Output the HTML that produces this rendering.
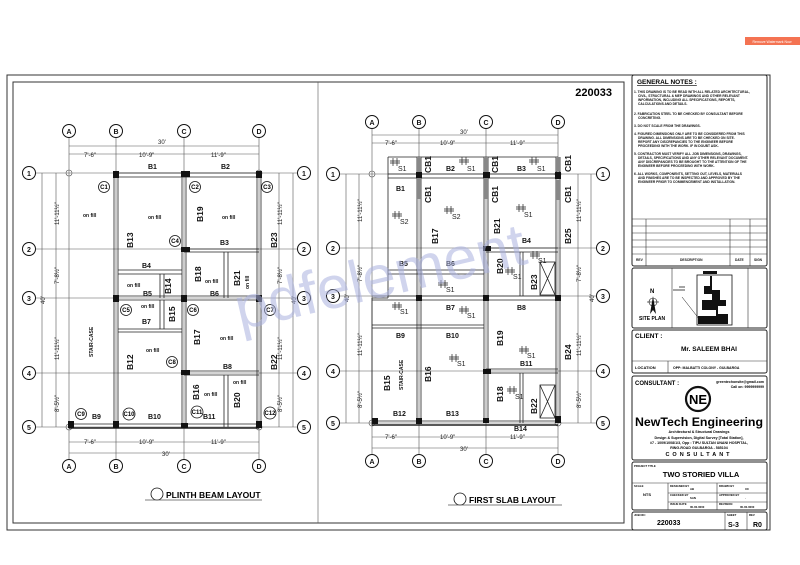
<!DOCTYPE html>
<html><head><meta charset="utf-8"><style>
html,body{margin:0;padding:0;background:#fff}
svg{display:block}
text{font-family:"Liberation Sans",sans-serif}
.b{font-weight:bold;font-size:7px;fill:#111}
.bv{font-weight:bold;font-size:8.5px;fill:#111}
.of{font-weight:bold;font-size:5px;fill:#111}
.d{font-size:6px;fill:#222}
.bub{fill:#fff;stroke:#111;stroke-width:1}
.bt{font-weight:bold;font-size:7px;text-anchor:middle;fill:#111}
.g{stroke:#555;stroke-width:0.6;fill:none}
.w{stroke:#222;stroke-width:0.8;fill:none}
.s{font-size:7px;fill:#222}
.tn{font-size:3.3px;font-weight:bold;fill:#111}
</style></head><body>
<svg width="800" height="565" viewBox="0 0 800 565" xmlns="http://www.w3.org/2000/svg">
<rect x="745" y="37" width="55" height="8" fill="#f47352"/>
<text x="772" y="43" font-size="3.5" fill="#fff" text-anchor="middle">Remove Watermark Now</text>
<rect x="7" y="75" width="763" height="455" fill="none" stroke="#333" stroke-width="1"/>
<rect x="13" y="82" width="611" height="441" fill="none" stroke="#333" stroke-width="1"/>
<line x1="318" y1="82" x2="318" y2="523" stroke="#555" stroke-width="0.6"/>
<text x="612" y="96" font-size="11" font-weight="bold" text-anchor="end">220033</text>

<!-- ===== LEFT PLAN ===== -->
<g class="g">
<line x1="69" y1="138" x2="69" y2="459"/><line x1="116" y1="138" x2="116" y2="459"/><line x1="184" y1="138" x2="184" y2="459"/><line x1="259" y1="138" x2="259" y2="459"/>
<line x1="36" y1="173" x2="297" y2="173"/><line x1="36" y1="249" x2="297" y2="249"/><line x1="36" y1="298" x2="297" y2="298"/><line x1="36" y1="373" x2="297" y2="373"/><line x1="36" y1="427" x2="297" y2="427"/>
<line x1="69" y1="146" x2="259" y2="146"/><line x1="69" y1="154" x2="259" y2="154"/>
<line x1="69" y1="442" x2="259" y2="442"/><line x1="69" y1="453" x2="259" y2="453"/>
<line x1="42" y1="173" x2="42" y2="427"/><line x1="56" y1="173" x2="56" y2="427"/>
<line x1="279" y1="173" x2="279" y2="427"/><line x1="293" y1="173" x2="293" y2="427"/>
</g>
<circle cx="69" cy="173" r="3" fill="none" stroke="#555" stroke-width="0.6"/>
<circle cx="259" cy="173" r="3" fill="none" stroke="#555" stroke-width="0.6"/>
<circle cx="69" cy="427" r="3" fill="none" stroke="#555" stroke-width="0.6"/>
<circle cx="259" cy="427" r="3" fill="none" stroke="#555" stroke-width="0.6"/>
<text class="d" x="158" y="144">30'</text>
<text class="d" x="84" y="157">7'-6"</text><text class="d" x="139" y="157">10'-9"</text><text class="d" x="211" y="157">11'-9"</text>
<text class="d" x="84" y="444">7'-6"</text><text class="d" x="139" y="444">10'-9"</text><text class="d" x="211" y="444">11'-9"</text>
<text class="d" x="162" y="456">30'</text>
<g class="d">
<text transform="translate(59,225) rotate(-90)">11'-11½"</text>
<text transform="translate(59,284) rotate(-90)">7'-8½"</text>
<text transform="translate(59,360) rotate(-90)">11'-11½"</text>
<text transform="translate(59,412) rotate(-90)">8'-5½"</text>
<text transform="translate(45,304) rotate(-90)">40'</text>
<text transform="translate(282,225) rotate(-90)">11'-11½"</text>
<text transform="translate(282,284) rotate(-90)">7'-8½"</text>
<text transform="translate(282,360) rotate(-90)">11'-11½"</text>
<text transform="translate(282,412) rotate(-90)">8'-5½"</text>
<text transform="translate(296,304) rotate(-90)">40'</text>
</g>
<g class="w">
<line x1="116" y1="173" x2="259" y2="173"/><line x1="116" y1="177" x2="259" y2="177"/>
<line x1="114" y1="173" x2="114" y2="427"/><line x1="118" y1="173" x2="118" y2="427"/>
<line x1="182" y1="173" x2="182" y2="427"/><line x1="186" y1="173" x2="186" y2="427"/>
<line x1="257" y1="173" x2="257" y2="427"/><line x1="261" y1="173" x2="261" y2="427"/>
<line x1="184" y1="249" x2="259" y2="249"/><line x1="184" y1="252" x2="259" y2="252"/>
<line x1="118" y1="270" x2="182" y2="270"/><line x1="118" y1="274" x2="182" y2="274"/>
<line x1="160" y1="274" x2="160" y2="298"/><line x1="164" y1="274" x2="164" y2="298"/>
<line x1="224" y1="252" x2="224" y2="298"/><line x1="228" y1="252" x2="228" y2="298"/>
<line x1="116" y1="296" x2="259" y2="296"/><line x1="116" y1="300" x2="259" y2="300"/>
<line x1="118" y1="329" x2="182" y2="329"/><line x1="118" y1="332" x2="182" y2="332"/>
<line x1="160" y1="300" x2="160" y2="329"/><line x1="164" y1="300" x2="164" y2="329"/>
<line x1="184" y1="371" x2="259" y2="371"/><line x1="184" y1="375" x2="259" y2="375"/>
<line x1="224" y1="375" x2="224" y2="427"/><line x1="228" y1="375" x2="228" y2="427"/>
<line x1="69" y1="424" x2="259" y2="424"/><line x1="69" y1="428" x2="259" y2="428" stroke-width="1.4"/>
</g>
<g fill="#111">
<rect x="113" y="171" width="6" height="7"/><rect x="181" y="171" width="9" height="6"/><rect x="256" y="171" width="6" height="7"/>
<rect x="181" y="247" width="9" height="5"/><rect x="113" y="295" width="6" height="7"/><rect x="181" y="295" width="6" height="7"/><rect x="256" y="295" width="6" height="7"/>
<rect x="181" y="370" width="9" height="5"/><rect x="68" y="421" width="6" height="7"/><rect x="113" y="421" width="6" height="7"/><rect x="181" y="423" width="7" height="5"/><rect x="256" y="421" width="6" height="7"/>
</g>
<g>
<circle class="bub" cx="69" cy="131" r="6.5"/><circle class="bub" cx="116" cy="131" r="6.5"/><circle class="bub" cx="184" cy="131" r="6.5"/><circle class="bub" cx="259" cy="131" r="6.5"/>
<circle class="bub" cx="69" cy="466" r="6.5"/><circle class="bub" cx="116" cy="466" r="6.5"/><circle class="bub" cx="184" cy="466" r="6.5"/><circle class="bub" cx="259" cy="466" r="6.5"/>
<circle class="bub" cx="29" cy="173" r="6.5"/><circle class="bub" cx="29" cy="249" r="6.5"/><circle class="bub" cx="29" cy="298" r="6.5"/><circle class="bub" cx="29" cy="373" r="6.5"/><circle class="bub" cx="29" cy="427" r="6.5"/>
<circle class="bub" cx="304" cy="173" r="6.5"/><circle class="bub" cx="304" cy="249" r="6.5"/><circle class="bub" cx="304" cy="298" r="6.5"/><circle class="bub" cx="304" cy="373" r="6.5"/><circle class="bub" cx="304" cy="427" r="6.5"/>
</g>
<g class="bt">
<text x="69" y="134">A</text><text x="116" y="134">B</text><text x="184" y="134">C</text><text x="259" y="134">D</text>
<text x="69" y="469">A</text><text x="116" y="469">B</text><text x="184" y="469">C</text><text x="259" y="469">D</text>
<text x="29" y="176">1</text><text x="29" y="252">2</text><text x="29" y="301">3</text><text x="29" y="376">4</text><text x="29" y="430">5</text>
<text x="304" y="176">1</text><text x="304" y="252">2</text><text x="304" y="301">3</text><text x="304" y="376">4</text><text x="304" y="430">5</text>
</g>
<g fill="#fff" stroke="#111" stroke-width="0.8">
<circle cx="104" cy="187" r="5.5"/><circle cx="195" cy="187" r="5.5"/><circle cx="267" cy="187" r="5.5"/><circle cx="175" cy="241" r="5.5"/>
<circle cx="126" cy="310" r="5.5"/><circle cx="193" cy="310" r="5.5"/><circle cx="270" cy="310" r="5.5"/><circle cx="172" cy="362" r="5.5"/>
<circle cx="81" cy="414" r="5.5"/><circle cx="129" cy="414" r="6"/><circle cx="197" cy="412" r="6"/><circle cx="270" cy="413" r="6"/>
</g>
<g font-size="6" font-weight="bold" text-anchor="middle">
<text x="104" y="189">C1</text><text x="195" y="189">C2</text><text x="267" y="189">C3</text><text x="175" y="243">C4</text>
<text x="126" y="312">C5</text><text x="193" y="312">C6</text><text x="270" y="312">C7</text><text x="172" y="364">C8</text>
<text x="81" y="416">C9</text><text x="129" y="416">C10</text><text x="197" y="414">C11</text><text x="270" y="415">C12</text>
</g>
<g class="b">
<text x="148" y="169">B1</text><text x="221" y="169">B2</text><text x="220" y="245">B3</text><text x="142" y="268">B4</text>
<text x="143" y="296">B5</text><text x="210" y="296">B6</text><text x="142" y="324">B7</text><text x="223" y="369">B8</text>
<text x="92" y="419">B9</text><text x="148" y="419">B10</text><text x="203" y="419">B11</text>
</g>
<g class="bv">
<text transform="translate(133,248) rotate(-90)">B13</text>
<text transform="translate(203,222) rotate(-90)">B19</text>
<text transform="translate(277,248) rotate(-90)">B23</text>
<text transform="translate(171,294) rotate(-90)">B14</text>
<text transform="translate(201,282) rotate(-90)">B18</text>
<text transform="translate(240,286) rotate(-90)">B21</text>
<text transform="translate(175,322) rotate(-90)">B15</text>
<text transform="translate(133,370) rotate(-90)">B12</text>
<text transform="translate(200,345) rotate(-90)">B17</text>
<text transform="translate(277,370) rotate(-90)">B22</text>
<text transform="translate(199,400) rotate(-90)">B16</text>
<text transform="translate(240,408) rotate(-90)">B20</text>
</g>
<g class="of">
<text x="83" y="217">on fill</text><text x="148" y="219">on fill</text><text x="222" y="219">on fill</text>
<text x="127" y="287">on fill</text><text x="205" y="283">on fill</text><text x="141" y="308">on fill</text>
<text x="146" y="352">on fill</text><text x="220" y="340">on fill</text><text x="233" y="384">on fill</text><text x="204" y="396">on fill</text>
<text transform="translate(249,289) rotate(-90)">on fill</text>
<text transform="translate(93,357) rotate(-90)">STAIR-CASE</text>
</g>
<circle cx="157" cy="494" r="6" fill="none" stroke="#111" stroke-width="0.8"/>
<line x1="145" y1="500" x2="262" y2="500" stroke="#555" stroke-width="0.8"/>
<text x="166" y="498" font-size="8.5" font-weight="bold">PLINTH BEAM LAYOUT</text>

<!-- ===== RIGHT PLAN ===== -->
<g class="g">
<line x1="372" y1="129" x2="372" y2="454"/><line x1="419" y1="129" x2="419" y2="454"/><line x1="486" y1="129" x2="486" y2="454"/><line x1="558" y1="129" x2="558" y2="454"/>
<line x1="340" y1="174" x2="596" y2="174"/><line x1="340" y1="248" x2="596" y2="248"/><line x1="340" y1="296" x2="596" y2="296"/><line x1="340" y1="371" x2="596" y2="371"/><line x1="340" y1="423" x2="596" y2="423"/>
<line x1="372" y1="135" x2="558" y2="135"/><line x1="372" y1="143" x2="558" y2="143"/>
<line x1="372" y1="437" x2="558" y2="437"/><line x1="372" y1="448" x2="558" y2="448"/>
<line x1="346" y1="174" x2="346" y2="423"/><line x1="359" y1="174" x2="359" y2="423"/>
<line x1="578" y1="174" x2="578" y2="423"/><line x1="591" y1="174" x2="591" y2="423"/>
</g>
<circle cx="372" cy="174" r="3" fill="none" stroke="#555" stroke-width="0.6"/>
<circle cx="558" cy="174" r="3" fill="none" stroke="#555" stroke-width="0.6"/>
<circle cx="372" cy="423" r="3" fill="none" stroke="#555" stroke-width="0.6"/>
<circle cx="558" cy="423" r="3" fill="none" stroke="#555" stroke-width="0.6"/>
<text class="d" x="460" y="134">30'</text>
<text class="d" x="385" y="145">7'-6"</text><text class="d" x="440" y="145">10'-9"</text><text class="d" x="510" y="145">11'-9"</text>
<text class="d" x="385" y="439">7'-6"</text><text class="d" x="440" y="439">10'-9"</text><text class="d" x="510" y="439">11'-9"</text>
<text class="d" x="460" y="451">30'</text>
<g class="d">
<text transform="translate(362,222) rotate(-90)">11'-11½"</text>
<text transform="translate(362,282) rotate(-90)">7'-8½"</text>
<text transform="translate(362,356) rotate(-90)">11'-11½"</text>
<text transform="translate(362,408) rotate(-90)">8'-5½"</text>
<text transform="translate(349,302) rotate(-90)">40'</text>
<text transform="translate(581,222) rotate(-90)">11'-11½"</text>
<text transform="translate(581,282) rotate(-90)">7'-8½"</text>
<text transform="translate(581,356) rotate(-90)">11'-11½"</text>
<text transform="translate(581,408) rotate(-90)">8'-5½"</text>
<text transform="translate(594,302) rotate(-90)">40'</text>
</g>
<g class="w">
<line x1="388" y1="157" x2="558" y2="157"/>
<line x1="388" y1="157" x2="388" y2="298"/><line x1="372" y1="298" x2="372" y2="425"/><line x1="372" y1="298" x2="388" y2="298"/>
<line x1="388" y1="174" x2="558" y2="174"/><line x1="388" y1="178" x2="558" y2="178"/>
<line x1="417" y1="157" x2="417" y2="423"/><line x1="421" y1="157" x2="421" y2="423"/>
<line x1="484" y1="157" x2="484" y2="423"/><line x1="488" y1="157" x2="488" y2="423"/>
<line x1="556" y1="157" x2="556" y2="423"/><line x1="560" y1="157" x2="560" y2="423"/>
<line x1="486" y1="248" x2="558" y2="248"/><line x1="486" y1="252" x2="558" y2="252"/>
<line x1="388" y1="270" x2="484" y2="270"/><line x1="388" y1="274" x2="484" y2="274"/>
<line x1="520" y1="252" x2="520" y2="296"/><line x1="523" y1="252" x2="523" y2="296"/>
<line x1="372" y1="296" x2="558" y2="296"/><line x1="372" y1="300" x2="558" y2="300"/>
<line x1="372" y1="325" x2="484" y2="325"/><line x1="372" y1="328" x2="484" y2="328"/>
<line x1="486" y1="369" x2="558" y2="369"/><line x1="486" y1="373" x2="558" y2="373"/>
<line x1="520" y1="373" x2="520" y2="423"/><line x1="523" y1="373" x2="523" y2="423"/>
<line x1="372" y1="421" x2="558" y2="421"/><line x1="372" y1="425" x2="558" y2="425" stroke-width="1.4"/>
<rect x="540" y="262" width="15" height="33"/><line x1="540" y1="262" x2="555" y2="295"/><line x1="555" y1="262" x2="540" y2="295"/>
<rect x="540" y="385" width="15" height="33"/><line x1="540" y1="385" x2="555" y2="418"/><line x1="555" y1="385" x2="540" y2="418"/>
</g>
<g fill="#888">
<rect x="417" y="157" width="4" height="42"/><rect x="484" y="157" width="4" height="42"/><rect x="556" y="157" width="4" height="14"/><rect x="556" y="180" width="4" height="20"/>
</g>
<g fill="#111">
<rect x="416" y="172" width="6" height="6"/><rect x="483" y="172" width="7" height="6"/><rect x="555" y="172" width="6" height="7"/>
<rect x="483" y="246" width="8" height="5"/><rect x="416" y="295" width="6" height="6"/><rect x="483" y="295" width="6" height="6"/><rect x="555" y="295" width="6" height="6"/>
<rect x="483" y="369" width="8" height="5"/><rect x="372" y="418" width="6" height="6"/><rect x="416" y="418" width="6" height="6"/><rect x="483" y="418" width="6" height="5"/><rect x="555" y="416" width="6" height="7"/>
</g>
<g>
<circle class="bub" cx="372" cy="122" r="6.5"/><circle class="bub" cx="419" cy="122" r="6.5"/><circle class="bub" cx="486" cy="122" r="6.5"/><circle class="bub" cx="558" cy="122" r="6.5"/>
<circle class="bub" cx="372" cy="461" r="6.5"/><circle class="bub" cx="419" cy="461" r="6.5"/><circle class="bub" cx="486" cy="461" r="6.5"/><circle class="bub" cx="558" cy="461" r="6.5"/>
<circle class="bub" cx="333" cy="174" r="6.5"/><circle class="bub" cx="333" cy="248" r="6.5"/><circle class="bub" cx="333" cy="296" r="6.5"/><circle class="bub" cx="333" cy="371" r="6.5"/><circle class="bub" cx="333" cy="423" r="6.5"/>
<circle class="bub" cx="603" cy="174" r="6.5"/><circle class="bub" cx="603" cy="248" r="6.5"/><circle class="bub" cx="603" cy="296" r="6.5"/><circle class="bub" cx="603" cy="371" r="6.5"/><circle class="bub" cx="603" cy="423" r="6.5"/>
</g>
<g class="bt">
<text x="372" y="125">A</text><text x="419" y="125">B</text><text x="486" y="125">C</text><text x="558" y="125">D</text>
<text x="372" y="464">A</text><text x="419" y="464">B</text><text x="486" y="464">C</text><text x="558" y="464">D</text>
<text x="333" y="177">1</text><text x="333" y="251">2</text><text x="333" y="299">3</text><text x="333" y="374">4</text><text x="333" y="426">5</text>
<text x="603" y="177">1</text><text x="603" y="251">2</text><text x="603" y="299">3</text><text x="603" y="374">4</text><text x="603" y="426">5</text>
</g>
<g class="b">
<text x="396" y="191">B1</text><text x="446" y="171">B2</text><text x="517" y="171">B3</text><text x="522" y="243">B4</text>
<text x="399" y="266">B5</text><text x="446" y="266">B6</text><text x="446" y="310">B7</text><text x="517" y="310">B8</text>
<text x="396" y="338">B9</text><text x="446" y="338">B10</text><text x="520" y="366">B11</text>
<text x="393" y="416">B12</text><text x="446" y="416">B13</text><text x="514" y="431">B14</text>
</g>
<g class="bv">
<text transform="translate(431,173) rotate(-90)">CB1</text>
<text transform="translate(498,173) rotate(-90)">CB1</text>
<text transform="translate(571,172) rotate(-90)">CB1</text>
<text transform="translate(431,203) rotate(-90)">CB1</text>
<text transform="translate(498,203) rotate(-90)">CB1</text>
<text transform="translate(571,203) rotate(-90)">CB1</text>
<text transform="translate(438,244) rotate(-90)">B17</text>
<text transform="translate(500,234) rotate(-90)">B21</text>
<text transform="translate(571,244) rotate(-90)">B25</text>
<text transform="translate(503,274) rotate(-90)">B20</text>
<text transform="translate(537,290) rotate(-90)">B23</text>
<text transform="translate(503,346) rotate(-90)">B19</text>
<text transform="translate(431,382) rotate(-90)">B16</text>
<text transform="translate(390,391) rotate(-90)">B15</text>
<text transform="translate(503,402) rotate(-90)">B18</text>
<text transform="translate(537,414) rotate(-90)">B22</text>
<text transform="translate(571,360) rotate(-90)">B24</text>
</g>
<g class="of"><text transform="translate(403,390) rotate(-90)">STAIR-CASE</text></g>
<g stroke="#222" stroke-width="0.7">
<path d="M390,161h10M390,163h10M393,158v8M397,158v8"/>
<path d="M459,160h10M459,162h10M462,157v8M466,157v8"/>
<path d="M529,160h10M529,162h10M532,157v8M536,157v8"/>
<path d="M392,214h10M392,216h10M395,211v8M399,211v8"/>
<path d="M444,209h10M444,211h10M447,206v8M451,206v8"/>
<path d="M516,207h10M516,209h10M519,204v8M523,204v8"/>
<path d="M530,254h10M530,256h10M533,251v8M537,251v8"/>
<path d="M505,270h10M505,272h10M508,267v8M512,267v8"/>
<path d="M438,283h10M438,285h10M441,280v8M445,280v8"/>
<path d="M392,305h10M392,307h10M395,302v8M399,302v8"/>
<path d="M459,309h10M459,311h10M462,306v8M466,306v8"/>
<path d="M519,349h10M519,351h10M522,346v8M526,346v8"/>
<path d="M449,357h10M449,359h10M452,354v8M456,354v8"/>
<path d="M507,389h10M507,391h10M510,386v8M514,386v8"/>
</g>
<g class="s">
<text x="398" y="171">S1</text><text x="467" y="171">S1</text><text x="537" y="171">S1</text>
<text x="400" y="224">S2</text><text x="452" y="219">S2</text><text x="524" y="217">S1</text>
<text x="538" y="263">S1</text><text x="513" y="279">S1</text><text x="446" y="292">S1</text>
<text x="400" y="314">S1</text><text x="467" y="318">S1</text><text x="527" y="358">S1</text>
<text x="457" y="366">S1</text><text x="515" y="399">S1</text>
</g>
<circle cx="460" cy="499" r="6" fill="none" stroke="#111" stroke-width="0.8"/>
<line x1="448" y1="505" x2="562" y2="505" stroke="#555" stroke-width="0.8"/>
<text x="469" y="503" font-size="8.5" font-weight="bold">FIRST SLAB LAYOUT</text>

<!-- watermark -->
<text x="240" y="330" transform="rotate(-13 240 330)" font-size="60" fill="#aab1de" fill-opacity="0.55" font-family="Liberation Sans,sans-serif">pdfelement</text>

<!-- ===== TITLE BLOCK ===== -->
<g fill="none" stroke="#222" stroke-width="1">
<rect x="632" y="75" width="135" height="191" rx="2"/>
<rect x="632" y="268" width="135" height="60" rx="2"/>
<rect x="632" y="330" width="135" height="43" rx="2"/>
<rect x="632" y="376" width="135" height="84" rx="2"/>
<rect x="632" y="462" width="135" height="48" rx="2"/>
<rect x="632" y="512" width="135" height="18" rx="2"/>
</g>
<g stroke="#333" stroke-width="0.6">
<line x1="632" y1="219" x2="767" y2="219"/><line x1="632" y1="226" x2="767" y2="226"/><line x1="632" y1="233" x2="767" y2="233"/><line x1="632" y1="240" x2="767" y2="240"/><line x1="632" y1="247" x2="767" y2="247"/><line x1="632" y1="254" x2="767" y2="254"/>
<line x1="646" y1="219" x2="646" y2="266"/><line x1="730" y1="219" x2="730" y2="266"/><line x1="750" y1="219" x2="750" y2="266"/>
<line x1="672" y1="268" x2="672" y2="328"/><line x1="748" y1="268" x2="748" y2="328"/>
<line x1="632" y1="361" x2="767" y2="361"/><line x1="668" y1="361" x2="668" y2="373"/>
<line x1="632" y1="483" x2="767" y2="483"/><line x1="668" y1="493" x2="767" y2="493"/><line x1="668" y1="502" x2="767" y2="502"/>
<line x1="668" y1="483" x2="668" y2="510"/><line x1="717" y1="483" x2="717" y2="510"/>
<line x1="725" y1="512" x2="725" y2="530"/><line x1="747" y1="512" x2="747" y2="530"/>
</g>
<text x="637" y="84" font-size="6.5" font-weight="bold" text-decoration="underline">GENERAL NOTES :</text>
<g class="tn">
<text x="634" y="93">1. THIS DRAWING IS TO BE READ WITH ALL RELATED ARCHITECTURAL,</text>
<text x="638" y="97">CIVIL, STRUCTURAL &amp; MEP DRAWINGS AND OTHER RELEVANT</text>
<text x="638" y="101">INFORMATION, INCLUDING ALL SPECIFICATIONS, REPORTS,</text>
<text x="638" y="105">CALCULATIONS AND DETAILS.</text>
<text x="634" y="115">2. FABRICATION STEEL TO BE CHECKED BY CONSULTANT BEFORE</text>
<text x="638" y="119">CONCRETING.</text>
<text x="634" y="127">3. DO NOT SCALE FROM THE DRAWINGS.</text>
<text x="634" y="135">4. FIGURED DIMENSIONS ONLY ARE TO BE CONSIDERED FROM THIS</text>
<text x="638" y="139">DRAWING. ALL DIMENSIONS ARE TO BE CHECKED ON SITE.</text>
<text x="638" y="143">REPORT ANY DISCREPANCIES TO THE ENGINEER BEFORE</text>
<text x="638" y="147">PROCEEDING WITH THE WORK. IF IN DOUBT ASK.</text>
<text x="634" y="155">5. CONTRACTOR MUST VERIFY ALL JOB DIMENSIONS, DRAWINGS,</text>
<text x="638" y="159">DETAILS, SPECIFICATIONS AND ANY OTHER RELEVANT DOCUMENT.</text>
<text x="638" y="163">ANY DISCREPANCIES TO BE BROUGHT TO THE ATTENTION OF THE</text>
<text x="638" y="167">ENGINEER BEFORE PROCEEDING WITH WORK.</text>
<text x="634" y="175">6. ALL WORKS, COMPONENTS, SETTING OUT, LEVELS, MATERIALS</text>
<text x="638" y="179">AND FINISHES ARE TO BE INSPECTED AND APPROVED BY THE</text>
<text x="638" y="183">ENGINEER PRIOR TO COMMENCEMENT AND INSTALLATION.</text>
<text x="636" y="261">REV</text><text x="680" y="261">DESCRIPTION</text><text x="735" y="261">DATE</text><text x="754" y="261">SIGN</text>
</g>
<text x="650" y="293" font-size="6" font-weight="bold">N</text>
<path d="M653,296 L650,314 L653,310 L656,314 Z" fill="#111"/>
<circle cx="653" cy="302" r="4" fill="none" stroke="#111" stroke-width="0.6"/>
<line x1="647" y1="302" x2="659" y2="302" stroke="#111" stroke-width="0.6"/>
<text x="639" y="320" font-size="5" font-weight="bold" font-family="Liberation Serif,serif">SITE PLAN</text>
<rect x="697" y="275" width="35" height="50" fill="none" stroke="#111" stroke-width="0.8"/>
<path d="M698,276h12v10h-6v8h8v6h-10v10h14v6h-18v8h30v-10h-10v-8h8v-6h-6v-10h-8v-14z" fill="#111"/>
<rect x="703" y="271" width="14" height="3" fill="#111"/>
<line x1="682" y1="297" x2="700" y2="320" stroke="#111" stroke-width="0.5"/>
<path d="M673,290h12m-6,-3h6" stroke="#111" stroke-width="0.8"/>
<text x="635" y="338" font-size="6.5" font-weight="bold">CLIENT  :</text>
<text x="681" y="351" font-size="6.5" font-weight="bold" font-family="Liberation Serif,serif">Mr. SALEEM BHAI</text>
<text x="635" y="369" font-size="4" font-weight="bold">LOCATION</text>
<text x="673" y="369" font-size="3.5" font-weight="bold">OPP: MALBATTI COLONY - GULBARGA</text>
<text x="635" y="385" font-size="6" font-weight="bold">CONSULTANT :</text>
<text x="764" y="383" font-size="3.5" font-weight="bold" text-anchor="end">greentechonsite@gmail.com</text>
<text x="764" y="388" font-size="3.5" font-weight="bold" text-anchor="end">Call on: 9999999999</text>
<circle cx="698" cy="399" r="12" fill="none" stroke="#111" stroke-width="2.2"/>
<text x="698" y="404" font-size="13" font-weight="bold" text-anchor="middle">NE</text>
<text x="699" y="426" font-size="11.5" font-weight="bold" text-anchor="middle" textLength="128" lengthAdjust="spacingAndGlyphs">NewTech Engineering</text>
<g font-size="3.6" font-weight="bold" text-anchor="middle">
<text x="699" y="433">Architectural &amp; Structural Drawings</text>
<text x="699" y="439">Design &amp; Supervision, Digital Survey [Total Station],</text>
<text x="699" y="444">#7 - 1009/1008/1/3, Opp : TIPU SULTAN UNANI HOSPITAL,</text>
<text x="699" y="449">RING-ROAD  GULBARGA - 585104</text>
</g>
<text x="699" y="456" font-size="5.5" font-weight="bold" text-anchor="middle" letter-spacing="3">CONSULTANT</text>
<text x="634" y="467" font-size="2.8" font-weight="bold">PROJECT TITLE</text>
<text x="701" y="477" font-size="7.5" font-weight="bold" text-anchor="middle">TWO STORIED VILLA</text>
<g font-size="2.8" font-weight="bold">
<text x="634" y="487">SCALE</text><text x="643" y="496" font-size="4">NTS</text>
<text x="670" y="487">DESIGNED BY</text><text x="690" y="490">AB</text>
<text x="719" y="487">DRAWN BY</text><text x="745" y="490">XX</text>
<text x="670" y="496">CHECKED BY</text><text x="690" y="499">SAN</text>
<text x="719" y="496">APPROVED BY</text><text x="745" y="499">-</text>
<text x="670" y="505">ISSUE DATE</text><text x="690" y="508">00-00-0000</text>
<text x="719" y="505">REVISION</text><text x="740" y="508">00-00-0000</text>
<text x="634" y="516">JOB NO:</text>
<text x="727" y="516">SHEET</text><text x="749" y="516">REV</text>
</g>
<text x="657" y="525" font-size="7" font-weight="bold">220033</text>
<text x="728" y="527" font-size="7" font-weight="bold">S-3</text>
<text x="753" y="527" font-size="7" font-weight="bold">R0</text>
</svg>
</body></html>
